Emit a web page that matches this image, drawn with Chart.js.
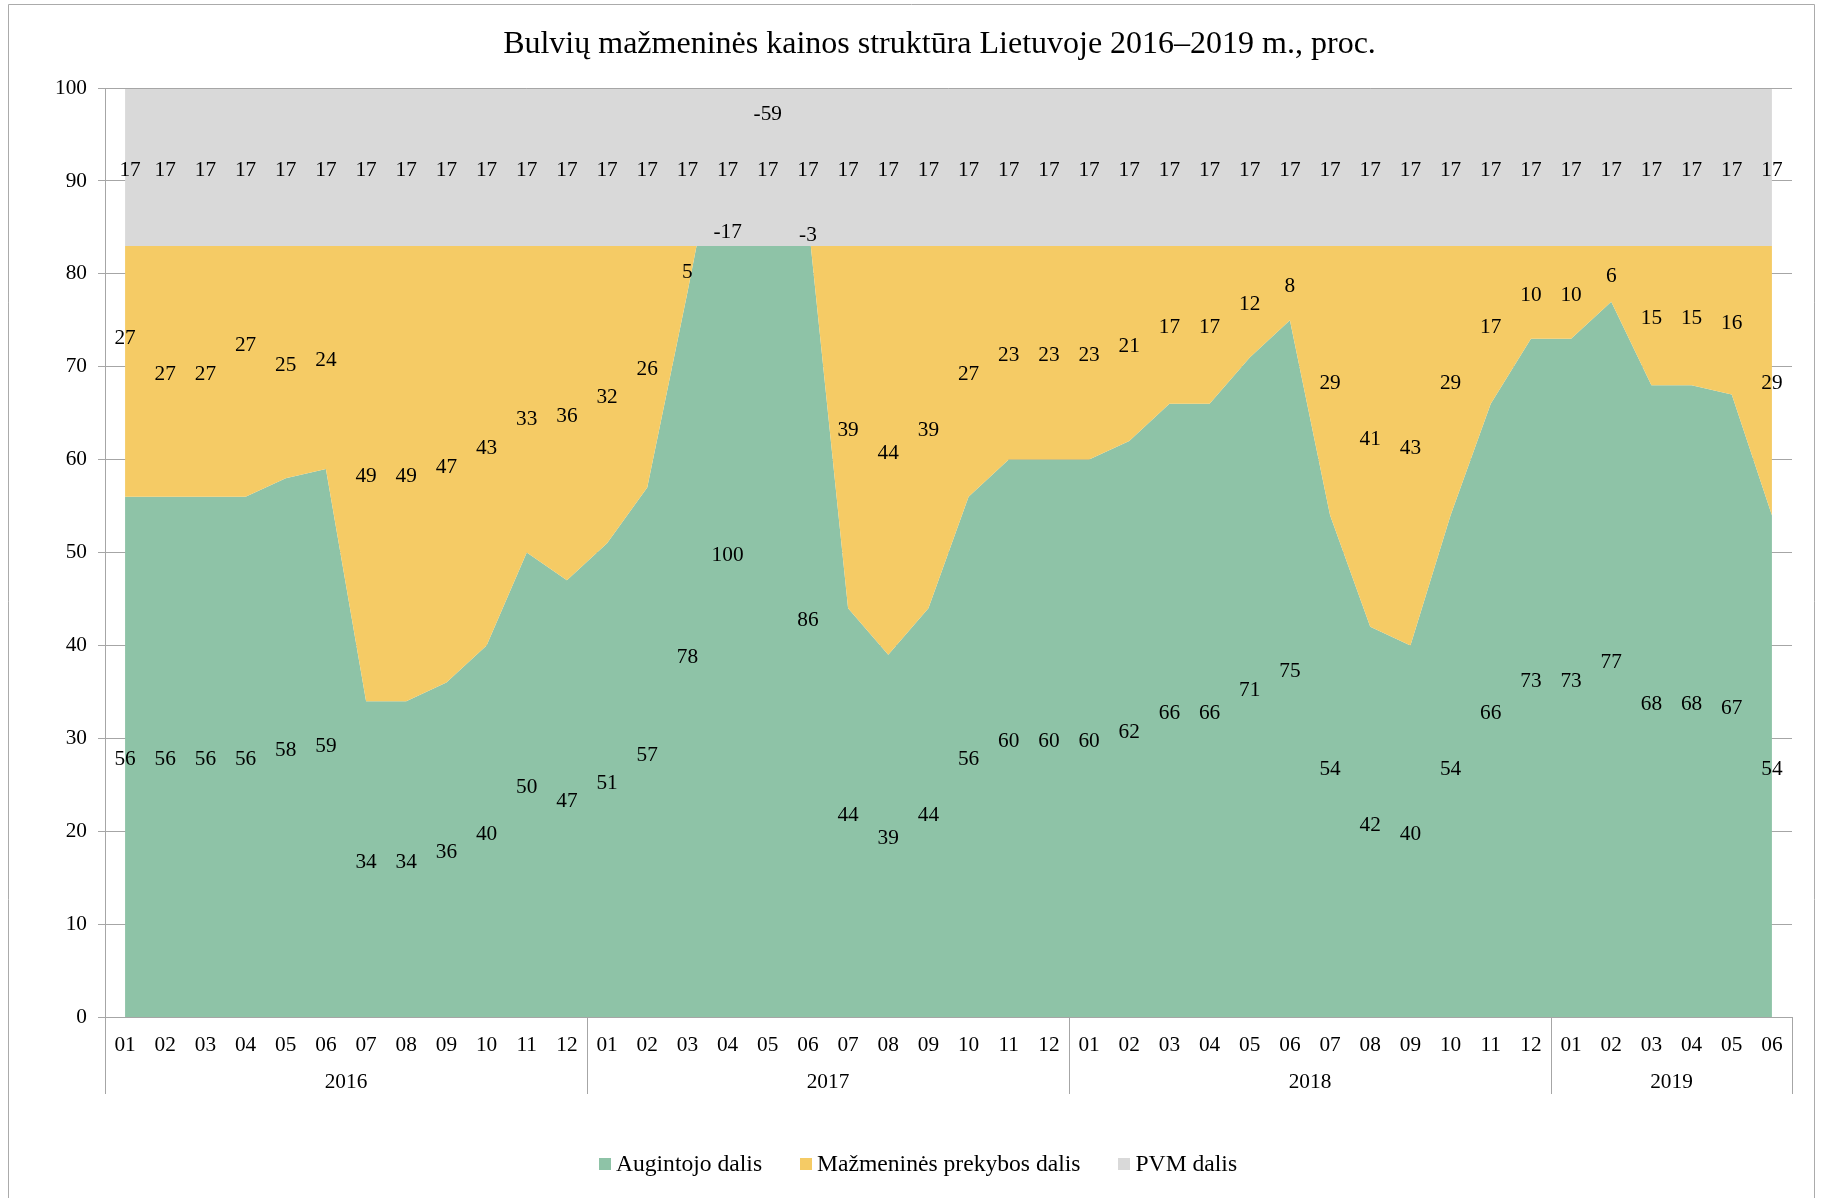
<!DOCTYPE html>
<html>
<head>
<meta charset="utf-8">
<script src="https://cdn.jsdelivr.net/npm/chart.js@4.4.1/dist/chart.umd.min.js"></script>
<style>
html,body{margin:0;padding:0;background:#fff;}
#wrap{width:1823px;height:1198px;position:relative;}
</style>
</head>
<body>
<div id="wrap"><canvas id="c" width="1823" height="1198"></canvas></div>
<script>
// ---------- DATA ----------
const chartTitle = 'Bulvių mažmeninės kainos struktūra Lietuvoje 2016–2019 m., proc.';
const years = ['2016', '2017', '2018', '2019'];
const monthsPerYear = [12, 12, 12, 6];
const months = [
  '01','02','03','04','05','06','07','08','09','10','11','12',
  '01','02','03','04','05','06','07','08','09','10','11','12',
  '01','02','03','04','05','06','07','08','09','10','11','12',
  '01','02','03','04','05','06'
];
const seriesNames = ['Augintojo dalis', 'Mažmeninės prekybos dalis', 'PVM dalis'];
const growerShare = [
  56, 56, 56, 56, 58, 59, 34, 34, 36, 40, 50, 47,
  51, 57, 78, 100, 142, 86, 44, 39, 44, 56, 60, 60,
  60, 62, 66, 66, 71, 75, 54, 42, 40, 54, 66, 73,
  73, 77, 68, 68, 67, 54
];
const retailShare = [
  27, 27, 27, 27, 25, 24, 49, 49, 47, 43, 33, 36,
  32, 26, 5, -17, -59, -3, 39, 44, 39, 27, 23, 23,
  23, 21, 17, 17, 12, 8, 29, 41, 43, 29, 17, 10,
  10, 6, 15, 15, 16, 29
];
const vatShare = [
  17, 17, 17, 17, 17, 17, 17, 17, 17, 17, 17, 17,
  17, 17, 17, 17, 17, 17, 17, 17, 17, 17, 17, 17,
  17, 17, 17, 17, 17, 17, 17, 17, 17, 17, 17, 17,
  17, 17, 17, 17, 17, 17
];
const yMin = 0, yMax = 100, yStep = 10;

// label tweaks (series index : point index)
const hiddenLabels = { '0:16': true };
const labelLevelOverride = { '1:0': 73.4, '1:3': 72.66, '1:10': 64.7, '1:15': 84.8, '1:16': 97.5 };
const labelXShift = { '2:0': 5 };

// ---------- STYLE ----------
const FONT = '"Liberation Serif", "Times New Roman", Times, serif';
const colors = ['#8EC3A7', '#F5CB65', '#D9D9D9'];
const axisGray = '#A6A6A6';
const labelSize = 21.3;
const labelYOffset = 3;

// stacked (cumulative) levels built from the series above
const level1 = growerShare.map(v => v);
const level2 = level1.map((v, i) => v + retailShare[i]);
const level3 = level2.map((v, i) => v + vatShare[i]);
const raw = [growerShare, retailShare, vatShare];
const levels = [level1, level2, level3];

Chart.defaults.font.family = FONT;
Chart.defaults.color = '#000';

const decor = {
  id: 'decor',
  beforeDraw(chart) {
    const ctx = chart.ctx;
    ctx.save();
    ctx.fillStyle = '#fff';
    ctx.fillRect(0, 0, chart.width, chart.height);
    ctx.strokeStyle = '#ABABAB';
    ctx.lineWidth = 1;
    ctx.beginPath();
    ctx.moveTo(8.5, chart.height);
    ctx.lineTo(8.5, 4.5);
    ctx.lineTo(chart.width - 8.5, 4.5);
    ctx.lineTo(chart.width - 8.5, chart.height);
    ctx.stroke();
    // title, centred over the plot area
    const area = chart.chartArea;
    ctx.fillStyle = '#000';
    ctx.font = '32px ' + FONT;
    ctx.textAlign = 'center';
    ctx.textBaseline = 'middle';
    ctx.fillText(chartTitle, (area.left + area.right) / 2 - 9, 45);
    ctx.restore();
  },
  afterDatasetsDraw(chart) {
    const ctx = chart.ctx;
    const xs = chart.scales.x, ys = chart.scales.y;
    const area = chart.chartArea;
    ctx.save();
    // top gridline visible over the area
    ctx.strokeStyle = axisGray;
    ctx.lineWidth = 1;
    const yt = Math.round(ys.getPixelForValue(yMax)) + 0.5;
    ctx.beginPath(); ctx.moveTo(area.left, yt); ctx.lineTo(area.right, yt); ctx.stroke();
    // data labels
    ctx.fillStyle = '#000';
    ctx.font = labelSize + 'px ' + FONT;
    ctx.textAlign = 'center';
    ctx.textBaseline = 'middle';
    for (let s = 0; s < raw.length; s++) {
      for (let i = 0; i < raw[s].length; i++) {
        const key = s + ':' + i;
        if (hiddenLabels[key]) continue;
        const lower = s === 0 ? 0 : levels[s - 1][i];
        const upper = levels[s][i];
        const lvl = (key in labelLevelOverride) ? labelLevelOverride[key] : (lower + upper) / 2;
        const x = xs.getPixelForValue(i) + (labelXShift[key] || 0);
        const y = ys.getPixelForValue(lvl) + labelYOffset;
        ctx.fillText(String(raw[s][i]), x, y);
      }
    }
    ctx.restore();
  },
  afterDraw(chart) {
    const ctx = chart.ctx;
    const xs = chart.scales.x;
    const area = chart.chartArea;
    ctx.save();
    // year groups + separators
    ctx.strokeStyle = axisGray;
    ctx.lineWidth = 1;
    const sepBottom = area.bottom + 77;
    let start = 0;
    const bounds = [area.left];
    for (let g = 0; g < years.length; g++) {
      const end = start + monthsPerYear[g] - 1;
      const right = end === months.length - 1 ? area.right
        : (xs.getPixelForValue(end) + xs.getPixelForValue(end + 1)) / 2;
      bounds.push(right);
      const left = bounds[g];
      ctx.fillStyle = '#000';
      ctx.font = labelSize + 'px ' + FONT;
      ctx.textAlign = 'center';
      ctx.textBaseline = 'middle';
      ctx.fillText(years[g], (left + right) / 2, area.bottom + 65);
      start = end + 1;
    }
    bounds.forEach(b => {
      const xx = Math.round(b) + 0.5;
      ctx.beginPath(); ctx.moveTo(xx, area.bottom); ctx.lineTo(xx, sepBottom); ctx.stroke();
    });
    // legend
    const legendFont = 23.6;
    ctx.font = legendFont + 'px ' + FONT;
    const box = 12, gapBoxText = 5, gapItems = 38;
    const widths = seriesNames.map(n => ctx.measureText(n).width);
    let total = 0;
    widths.forEach((w, i) => { total += box + gapBoxText + w + (i < widths.length - 1 ? gapItems : 0); });
    let x = 918 - total / 2;
    const ly = 1164;
    ctx.textAlign = 'left';
    ctx.textBaseline = 'middle';
    seriesNames.forEach((n, i) => {
      ctx.fillStyle = colors[i];
      ctx.fillRect(Math.round(x), ly - 6, box, box);
      ctx.fillStyle = '#000';
      ctx.fillText(n, x + box + gapBoxText, ly + 1);
      x += box + gapBoxText + widths[i] + gapItems;
    });
    ctx.restore();
  }
};

const ctx = document.getElementById('c').getContext('2d');
new Chart(ctx, {
  type: 'line',
  data: {
    labels: months,
    datasets: [
      { label: seriesNames[0], data: level1, backgroundColor: colors[0], borderColor: colors[0],
        borderWidth: 0, pointRadius: 0, pointHoverRadius: 0, fill: 'origin', order: 3, tension: 0 },
      { label: seriesNames[1], data: level2, backgroundColor: colors[1], borderColor: colors[1],
        borderWidth: 0, pointRadius: 0, pointHoverRadius: 0, fill: '-1', order: 2, tension: 0 },
      { label: seriesNames[2], data: level3, backgroundColor: colors[2], borderColor: colors[2],
        borderWidth: 0, pointRadius: 0, pointHoverRadius: 0, fill: '-1', order: 1, tension: 0 }
    ]
  },
  options: {
    responsive: false,
    animation: false,
    events: [],
    layout: { padding: { left: 10, right: 31, top: 88, bottom: 100 } },
    plugins: {
      legend: { display: false },
      tooltip: { enabled: false },
      title: { display: false },
      filler: { propagate: false, drawTime: 'beforeDatasetDraw' }
    },
    scales: {
      x: {
        type: 'category',
        offset: true,
        grid: { display: false, drawTicks: false },
        border: { display: true, color: axisGray, width: 1 },
        ticks: { autoSkip: false, maxRotation: 0, minRotation: 0, padding: 16,
                 font: { family: FONT, size: labelSize }, color: '#000' },
        afterFit(scale) { scale.height = 81; }
      },
      y: {
        min: yMin, max: yMax,
        grid: { color: axisGray, lineWidth: 1, drawTicks: true, tickLength: 7 },
        border: { display: true, color: axisGray, width: 1 },
        ticks: { stepSize: yStep, padding: 11, font: { family: FONT, size: labelSize }, color: '#000' },
        afterFit(scale) { scale.width = 95; }
      }
    }
  },
  plugins: [decor]
});
</script>
</body>
</html>
